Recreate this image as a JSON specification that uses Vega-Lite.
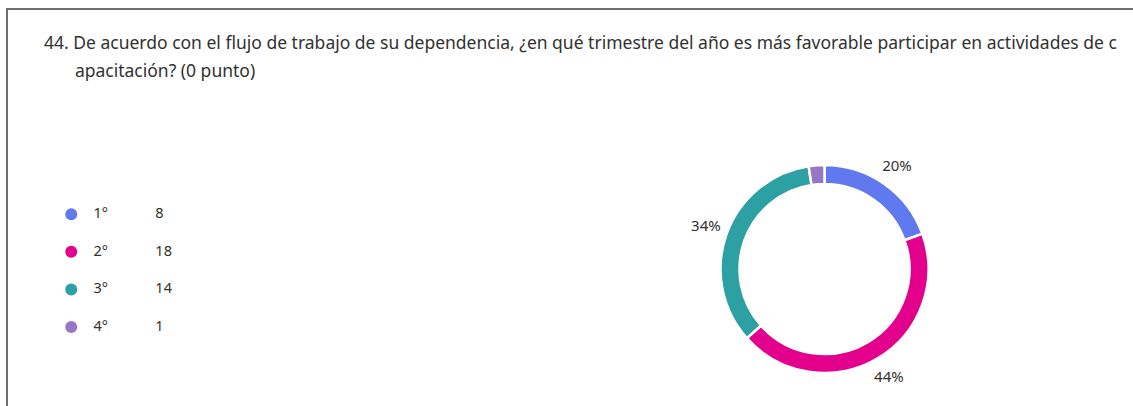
{
  "$schema": "https://vega.github.io/schema/vega-lite/v6.json",
  "width": 1635,
  "height": 520,
  "autosize": {"type": "none"},
  "padding": {"left": 7, "top": 9, "right": -509, "bottom": -123},
  "background": "white",
  "view": {"stroke": "#6f6f6f", "strokeWidth": 2, "fill": "white"},
  "config": {
    "view": {"stroke": "#6f6f6f", "strokeWidth": 2},
    "font": "Noto Sans"
  },
  "title": {
    "text": [
      "44. De acuerdo con el flujo de trabajo de su dependencia, ¿en qué trimestre del año es más favorable participar en actividades de c",
      "\u200b\u2003\u2002\u2009\u200aapacitación? (0 punto)"
    ],
    "anchor": "start",
    "frame": "group",
    "orient": "top",
    "offset": -71,
    "dx": 37,
    "baseline": "top",
    "fontSize": 17.5,
    "fontWeight": "normal",
    "color": "#323130",
    "lineHeight": 28,
    "font": "Noto Sans"
  },
  "datasets": {
    "votes": [
      {"cat": "1°", "n": 8, "pct": "20%"},
      {"cat": "2°", "n": 18, "pct": "44%"},
      {"cat": "3°", "n": 14, "pct": "34%"},
      {"cat": "4°", "n": 1, "pct": "2%"}
    ]
  },
  "data": {"name": "votes"},
  "encoding": {
    "theta": {"field": "n", "type": "quantitative", "stack": true},
    "order": {"field": "cat", "type": "ordinal"}
  },
  "layer": [
    {
      "mark": {"type": "arc", "innerRadius": 85, "outerRadius": 104, "stroke": "white", "strokeWidth": 2.5},
      "encoding": {
        "color": {
          "field": "cat",
          "type": "nominal",
          "scale": {"domain": ["1°", "2°", "3°", "4°"], "range": ["#6079ee", "#e3008c", "#2ca0a3", "#9875c6"]},
          "legend": {
            "orient": "none",
            "legendX": 57,
            "legendY": 198,
            "title": null,
            "padding": 0,
            "symbolType": "circle",
            "symbolSize": 144,
            "symbolStrokeWidth": 0,
            "labelFontSize": 14.5,
            "labelColor": "#323130",
            "labelFont": "Noto Sans",
            "rowPadding": 22.6,
            "labelOffset": 15,
            "labelExpr": "datum.label + '\u2003\u2003\u2003\u2009\u200a' + data('votes')[datum.index].n"
          }
        }
      }
    },
    {
      "mark": {"type": "text", "radius": 126, "fontSize": 15, "fill": "#323130", "font": "Noto Sans"},
      "encoding": {
        "detail": {"field": "cat", "type": "nominal"},
        "text": {"condition": {"test": "datum.n < 2", "value": ""}, "field": "pct", "type": "nominal"}
      }
    }
  ]
}
